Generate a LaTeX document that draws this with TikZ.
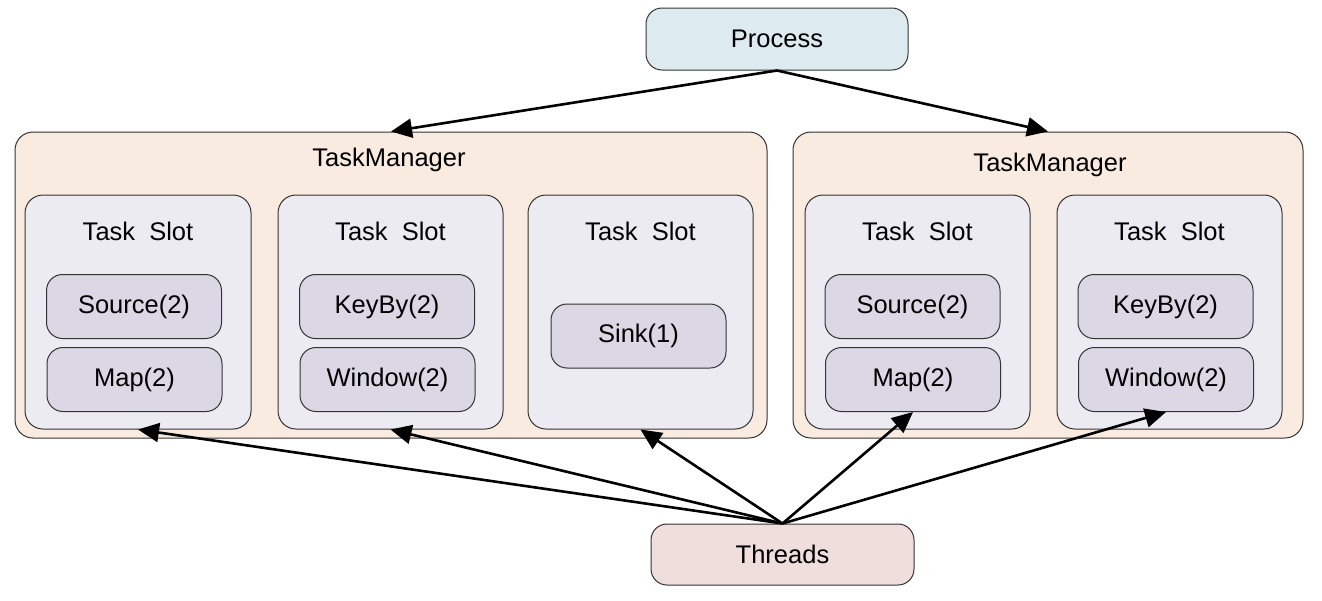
\documentclass[tikz,border=0pt]{standalone}
\usepackage{fontspec}
\setmainfont{Liberation Sans}
\usetikzlibrary{arrows.meta}
\definecolor{procfill}{HTML}{DDEBF0}
\definecolor{tmfill}{HTML}{F9EBE0}
\definecolor{slotfill}{HTML}{EDEBF2}
\definecolor{opfill}{HTML}{DCD7E4}
\definecolor{thrfill}{HTML}{EFDEDB}
\definecolor{edge}{HTML}{333333}
\tikzset{
  box/.style={draw=edge, line width=1pt, rounded corners=16pt, inner sep=0pt, font=\fontsize{25.5}{30}\selectfont},
  procbox/.style={box, fill=procfill, minimum width=262pt, minimum height=62pt},
  thrbox/.style={box, fill=thrfill, minimum width=263pt, minimum height=61pt},
  tmbox/.style={box, fill=tmfill, rounded corners=18pt, minimum height=306pt},
  slotbox/.style={box, fill=slotfill, rounded corners=18pt, minimum width=225pt, minimum height=234pt},
  opbox/.style={box, fill=opfill, minimum width=175pt, minimum height=64pt},
  lbl/.style={font=\fontsize{25.5}{30}\selectfont, inner sep=0pt},
  arr/.style={line width=2.6pt, -{Triangle[length=21pt,width=19pt]}}
}
\begin{document}
\begin{tikzpicture}[x=1pt,y=-1pt]
\useasboundingbox (0,0) rectangle (1322,600);
\node[procbox] (proc) at (777,39) {Process};
\node[tmbox, minimum width=752pt] (tm1) at (391,285) {};
\node[tmbox, minimum width=510pt] (tm2) at (1048,285) {};
\node[lbl] (tm1t) at (389,160) {TaskManager};
\node[lbl] (tm2t) at (1050,165) {TaskManager};
\node[slotbox, minimum width=226pt] (s1) at (138,312) {};
\node[slotbox] (s2) at (390.5,312) {};
\node[slotbox] (s3) at (640.5,312) {};
\node[slotbox] (s4) at (917.5,312) {};
\node[slotbox] (s5) at (1169.5,312) {};
\foreach \n/\x in {s1t/138,s2t/390.5,s3t/640.5,s4t/917.5,s5t/1169.5}
  \node[lbl] (\n) at (\x,231) {Task\ \ Slot};
\node[opbox] (src1) at (134,306.5) {Source(2)};
\node[opbox] (map1) at (134.5,379.5) {Map(2)};
\node[opbox] (key2) at (387,306.5) {KeyBy(2)};
\node[opbox] (win2) at (387.5,379.5) {Window(2)};
\node[opbox] (sink3) at (638.5,336) {Sink(1)};
\node[opbox] (src4) at (912.5,306.5) {Source(2)};
\node[opbox] (map4) at (913,379.5) {Map(2)};
\node[opbox] (key5) at (1165.5,306.5) {KeyBy(2)};
\node[opbox] (win5) at (1166,379.5) {Window(2)};
\node[thrbox] (thr) at (782.5,554.5) {Threads};
\draw[arr] (proc.south) -- (tm1.north);
\draw[arr] (proc.south) -- (tm2.north);
\draw[arr] (thr.north) -- (s1.south);
\draw[arr] (thr.north) -- (s2.south);
\draw[arr] (thr.north) -- (s3.south);
\draw[arr] (thr.north) -- (map4.south);
\draw[arr] (thr.north) -- (win5.south);
\end{tikzpicture}
\end{document}
